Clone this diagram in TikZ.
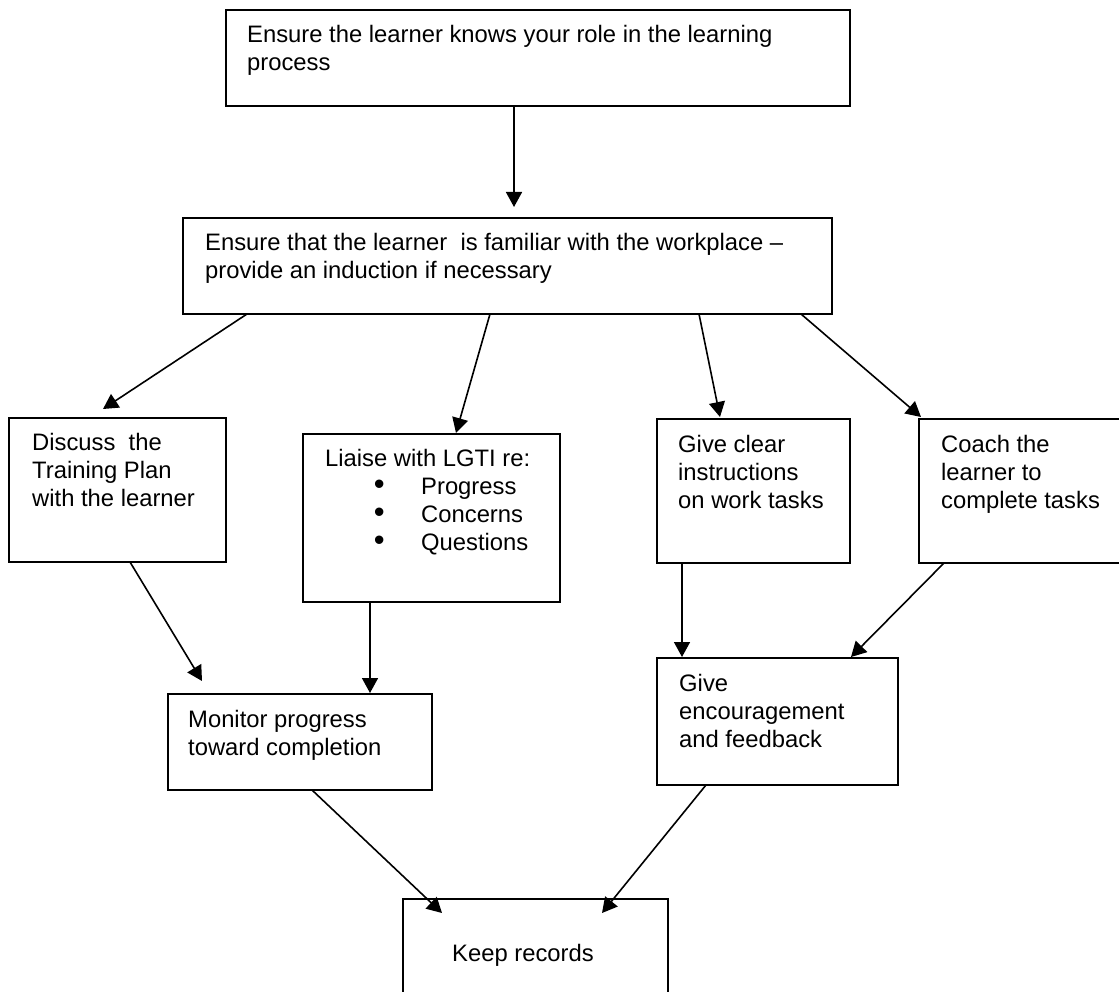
\documentclass[tikz,border=0pt]{standalone}
\usepackage{fontspec}
\setmainfont{Liberation Sans}
\usetikzlibrary{arrows.meta}
\tikzset{
  box/.style={draw, line width=2pt, outer sep=0pt, inner sep=0pt, anchor=north west},
  txt/.style={anchor=base west, inner sep=0pt, font=\fontsize{23.8}{28}\selectfont},
  conn/.style={line width=1.6pt, -{Triangle[length=15pt,width=16pt]}},
}
\newcommand{\blt}[1]{\hbox{\kern54pt\makebox[0pt]{\scalebox{1.3}{\textbullet}}\kern42pt #1}}
\begin{document}
\begin{tikzpicture}[x=1pt,y=-1pt]
\useasboundingbox (0,0) rectangle (1119,992);
\fill[white] (0,0) rectangle (1119,992);
\clip (0,0) rectangle (1119,992);

% boxes
\node[box, minimum width=624pt, minimum height=96pt] (A) at (226,10) {};
\node[box, minimum width=649pt, minimum height=96pt] (B) at (183,218) {};
\node[box, minimum width=217pt, minimum height=144pt] (C) at (9,418) {};
\node[box, minimum width=257pt, minimum height=168pt] (D) at (303,434) {};
\node[box, minimum width=193pt, minimum height=144pt] (E) at (657,419) {};
\node[box, minimum width=240pt, minimum height=144pt] (F) at (919,419) {};
\node[box, minimum width=264pt, minimum height=96pt] (G) at (168,694) {};
\node[box, minimum width=241pt, minimum height=127pt] (H) at (657,658) {};
\node[box, minimum width=265pt, minimum height=130pt] (K) at (403,899) {};

% texts
\node[txt] (tA) at (247,43) {\vtop{\hbox{Ensure the learner knows your role in the learning}\hbox{process}}};
\node[txt] (tB) at (205,251) {\vtop{\hbox{Ensure that the learner~ is familiar with the workplace –}\hbox{provide an induction if necessary}}};
\node[txt] (tC) at (32,450) {\vtop{\hbox{Discuss~ the}\hbox{Training Plan}\hbox{with the learner}}};
\node[txt] (tD) at (325,466) {\vtop{\hbox{Liaise with LGTI re:}\blt{Progress}\blt{Concerns}\blt{Questions}}};
\node[txt] (tE) at (678,452) {\vtop{\hbox{Give clear}\hbox{instructions}\hbox{on work tasks}}};
\node[txt] (tF) at (941,452) {\vtop{\hbox{Coach the}\hbox{learner to}\hbox{complete tasks}}};
\node[txt] (tG) at (188,727) {\vtop{\hbox{Monitor progress}\hbox{toward completion}}};
\node[txt] (tH) at (679,691) {\vtop{\hbox{Give}\hbox{encouragement}\hbox{and feedback}}};
\node[txt] (tK) at (452,961) {Keep records};

% connectors
\draw[conn] ([xshift=288pt]A.south west) -- ([xshift=331pt,yshift=11pt]B.north west);
\draw[conn] ([xshift=64pt]B.south west) -- ([xshift=94pt,yshift=9pt]C.north west);
\draw[conn] ([xshift=307pt]B.south west) -- ([xshift=153pt,yshift=1pt]D.north west);
\draw[conn] ([xshift=516pt]B.south west) -- ([xshift=63pt,yshift=2pt]E.north west);
\draw[conn] ([xshift=618pt]B.south west) -- ([xshift=2pt,yshift=2pt]F.north west);
\draw[conn] ([xshift=121pt]C.south west) -- ([xshift=34pt,yshift=13pt]G.north west);
\draw[conn] ([xshift=67pt]D.south west) -- ([xshift=202pt,yshift=1pt]G.north west);
\draw[conn] ([xshift=25pt]E.south west) -- ([xshift=25pt,yshift=1pt]H.north west);
\draw[conn] ([xshift=25pt]F.south west) -- ([xshift=194pt,yshift=1pt]H.north west);
\draw[conn] ([xshift=144pt]G.south west) -- ([xshift=39pt,yshift=-14pt]K.north west);
\draw[conn] ([xshift=49pt]H.south west) -- ([xshift=199pt,yshift=-14pt]K.north west);
\end{tikzpicture}
\end{document}
